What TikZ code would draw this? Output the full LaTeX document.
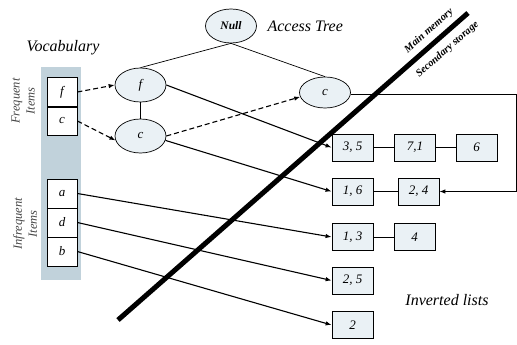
\documentclass[tikz,border=0pt]{standalone}
\usepackage{fontspec}
\setmainfont{Liberation Serif}
\usetikzlibrary{arrows.meta,shapes.geometric}
\definecolor{boxfill}{RGB}{234,241,245}
\definecolor{panelfill}{RGB}{193,210,219}
\definecolor{labgray}{RGB}{70,70,70}
\begin{document}
\begin{tikzpicture}[x=1pt,y=-1pt,
  ell/.style={ellipse, draw, line width=0.7pt, fill=boxfill, minimum width=51pt, minimum height=34pt, inner sep=0pt, font=\fontsize{13}{13}\selectfont\itshape},
  vbox/.style={draw, line width=0.8pt, fill=white, minimum width=30pt, minimum height=29pt, inner sep=0pt, font=\fontsize{13}{13}\selectfont\itshape},
  lbox/.style={draw, line width=0.8pt, fill=boxfill, minimum width=41pt, minimum height=27pt, inner sep=0pt, font=\fontsize{13}{13}\selectfont\itshape},
  arr/.style={-{Latex[length=6pt,width=4.5pt]}, line width=1.1pt},
  darr/.style={arr, dash pattern=on 5pt off 3pt},
  thin/.style={line width=0.7pt},
  title/.style={font=\fontsize{16}{16}\selectfont\itshape},
  sidelab/.style={rotate=90, align=center, text=labgray, font=\fontsize{12.5}{15}\selectfont\itshape},
  memlab/.style={rotate=41.4, inner sep=0pt, font=\fontsize{10.5}{10.5}\selectfont\bfseries\itshape}
]
\useasboundingbox (0,0) rectangle (517,345);
% panel
\fill[panelfill] (41,67) rectangle (81,280);
\node[title] (voc) at (63,48) {Vocabulary};
\node[sidelab] (freq) at (23,101) {Frequent\\Items};
\node[sidelab] (infreq) at (25,224) {Infrequent\\Items};
% vocabulary boxes
\node[vbox] (vf) at (62,92) {f};
\node[vbox, minimum height=28pt] (vc) at (62,121) {c};
\node[vbox] (va) at (62,193.5) {a};
\node[vbox] (vd) at (62,222.5) {d};
\node[vbox] (vb) at (62,251.5) {b};
% tree
\node[ell, font=\fontsize{11.5}{11.5}\selectfont\itshape\bfseries] (null) at (231,26) {Null};
\node[title, anchor=west] (at) at (264,26) {Access Tree};
\node[ell] (tf) at (140.5,85) {f};
\node[ell] (tc) at (140.5,136) {c};
\node[ell, minimum height=31pt] (rc) at (325,92.5) {c};
\draw[thin] (null.south) -- (tf.north);
\draw[thin] (null.south) -- (rc.north);
\draw[thin] (tf.south) -- (tc.north);
% inverted lists
\node[lbox] (l35) at (352.5,147.5) {3, 5};
\node[lbox] (l71) at (415,147.5) {7,1};
\node[lbox] (l6) at (476.5,147.5) {6};
\node[lbox] (l16) at (352.5,191.5) {1, 6};
\node[lbox] (l24) at (418.5,191.5) {2, 4};
\node[lbox] (l13) at (352.5,237) {1, 3};
\node[lbox] (l4) at (414.5,237) {4};
\node[lbox] (l25) at (352.5,280.5) {2, 5};
\node[lbox] (l2) at (352.5,325) {2};
\node[title] (inv) at (447,300) {Inverted lists};
\draw[thin] (l35) -- (l71);
\draw[thin] (l71) -- (l6);
\draw[thin] (l16) -- (l24);
\draw[thin] (l13) -- (l4);
% memory divider
\coordinate (m1) at (118,320);
\coordinate (m2) at (468,13);
\draw[line width=5pt] (m1) -- (m2);
\node[memlab] (mm) at (429,31) {Main memory};
\node[memlab] (ss) at (447.5,49.5) {Secondary storage};
% arrows
\draw[darr] (vf.east) -- (tf.west);
\draw[darr] (vc.east) -- (tc.190);
\draw[darr] (tc.east) -- (rc.190);
\draw[arr] (tf.east) -- (l35.west);
\draw[arr] (tc.-10) -- (l16.west);
\draw[arr] (va.east) -- (l13.west);
\draw[arr] (vd.east) -- (l25.west);
\draw[arr] (vb.east) -- (l2.west);
\coordinate (turn) at (516,94);
\draw[arr, line width=0.9pt] (rc.east |- turn) -- (turn) |- (l24.east);
\end{tikzpicture}
\end{document}
